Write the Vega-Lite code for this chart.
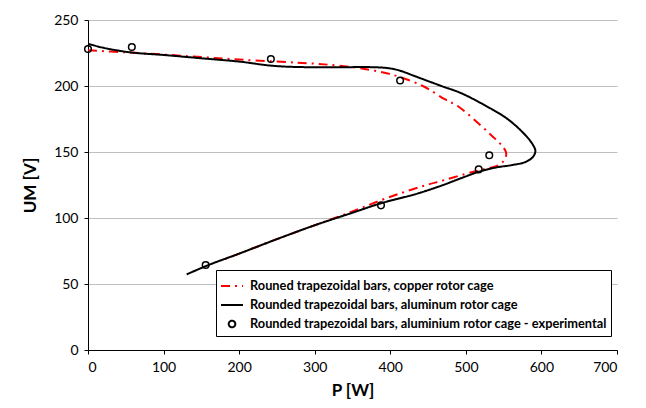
{
  "$schema": "https://vega.github.io/schema/vega-lite/v6.json",
  "width": 529,
  "height": 330,
  "autosize": {"type": "none"},
  "padding": {"left": 88, "top": 20, "right": 29, "bottom": 58},
  "background": "white",
  "config": {
    "view": {"stroke": null},
    "font": "Lato",
    "axis": {
      "labelFont": "Lato",
      "labelFontSize": 14,
      "labelColor": "#000000",
      "titleFont": "Lato",
      "titleFontSize": 17,
      "titleFontWeight": "bold",
      "titleColor": "#000000",
      "domainColor": "#000000",
      "tickColor": "#000000",
      "tickSize": 4,
      "domainWidth": 1
    }
  },
  "datasets": {
    "curves": [
      {"series": "Rouned trapezoidal bars, copper rotor cage", "i": 1, "P": 0, "U": 227},
      {"series": "Rouned trapezoidal bars, copper rotor cage", "i": 2, "P": 50, "U": 225.5},
      {"series": "Rouned trapezoidal bars, copper rotor cage", "i": 3, "P": 122, "U": 223},
      {"series": "Rouned trapezoidal bars, copper rotor cage", "i": 4, "P": 200, "U": 220},
      {"series": "Rouned trapezoidal bars, copper rotor cage", "i": 5, "P": 298, "U": 217},
      {"series": "Rouned trapezoidal bars, copper rotor cage", "i": 6, "P": 330, "U": 215.5},
      {"series": "Rouned trapezoidal bars, copper rotor cage", "i": 7, "P": 360, "U": 213.4},
      {"series": "Rouned trapezoidal bars, copper rotor cage", "i": 8, "P": 400, "U": 209},
      {"series": "Rouned trapezoidal bars, copper rotor cage", "i": 9, "P": 443, "U": 200},
      {"series": "Rouned trapezoidal bars, copper rotor cage", "i": 10, "P": 472, "U": 190},
      {"series": "Rouned trapezoidal bars, copper rotor cage", "i": 11, "P": 490, "U": 184.5},
      {"series": "Rouned trapezoidal bars, copper rotor cage", "i": 12, "P": 516.5, "U": 171.7},
      {"series": "Rouned trapezoidal bars, copper rotor cage", "i": 13, "P": 535, "U": 162},
      {"series": "Rouned trapezoidal bars, copper rotor cage", "i": 14, "P": 547.4, "U": 155},
      {"series": "Rouned trapezoidal bars, copper rotor cage", "i": 15, "P": 553, "U": 150},
      {"series": "Rouned trapezoidal bars, copper rotor cage", "i": 16, "P": 553, "U": 146.5},
      {"series": "Rouned trapezoidal bars, copper rotor cage", "i": 17, "P": 549, "U": 142.5},
      {"series": "Rouned trapezoidal bars, copper rotor cage", "i": 18, "P": 541, "U": 139.4},
      {"series": "Rouned trapezoidal bars, copper rotor cage", "i": 19, "P": 520, "U": 136.5},
      {"series": "Rouned trapezoidal bars, copper rotor cage", "i": 20, "P": 500, "U": 133.5},
      {"series": "Rouned trapezoidal bars, copper rotor cage", "i": 21, "P": 470, "U": 128.5},
      {"series": "Rouned trapezoidal bars, copper rotor cage", "i": 22, "P": 448, "U": 125},
      {"series": "Rouned trapezoidal bars, copper rotor cage", "i": 23, "P": 420, "U": 120},
      {"series": "Rouned trapezoidal bars, copper rotor cage", "i": 24, "P": 388, "U": 113.5},
      {"series": "Rouned trapezoidal bars, copper rotor cage", "i": 25, "P": 350, "U": 105},
      {"series": "Rouned trapezoidal bars, copper rotor cage", "i": 26, "P": 300, "U": 94.5},
      {"series": "Rouned trapezoidal bars, copper rotor cage", "i": 27, "P": 250, "U": 84},
      {"series": "Rouned trapezoidal bars, copper rotor cage", "i": 28, "P": 200, "U": 73},
      {"series": "Rouned trapezoidal bars, copper rotor cage", "i": 29, "P": 175, "U": 67.5},
      {"series": "Rounded trapezoidal bars, aluminum rotor cage", "i": 1, "P": 0, "U": 232},
      {"series": "Rounded trapezoidal bars, aluminum rotor cage", "i": 2, "P": 20, "U": 229},
      {"series": "Rounded trapezoidal bars, aluminum rotor cage", "i": 3, "P": 56, "U": 225.5},
      {"series": "Rounded trapezoidal bars, aluminum rotor cage", "i": 4, "P": 100, "U": 223.5},
      {"series": "Rounded trapezoidal bars, aluminum rotor cage", "i": 5, "P": 150, "U": 221},
      {"series": "Rounded trapezoidal bars, aluminum rotor cage", "i": 6, "P": 200, "U": 218.5},
      {"series": "Rounded trapezoidal bars, aluminum rotor cage", "i": 7, "P": 241, "U": 215.5},
      {"series": "Rounded trapezoidal bars, aluminum rotor cage", "i": 8, "P": 270, "U": 214.5},
      {"series": "Rounded trapezoidal bars, aluminum rotor cage", "i": 9, "P": 320, "U": 214.2},
      {"series": "Rounded trapezoidal bars, aluminum rotor cage", "i": 10, "P": 380, "U": 214.2},
      {"series": "Rounded trapezoidal bars, aluminum rotor cage", "i": 11, "P": 400, "U": 213.3},
      {"series": "Rounded trapezoidal bars, aluminum rotor cage", "i": 12, "P": 413, "U": 211.6},
      {"series": "Rounded trapezoidal bars, aluminum rotor cage", "i": 13, "P": 430, "U": 208},
      {"series": "Rounded trapezoidal bars, aluminum rotor cage", "i": 14, "P": 452, "U": 203.3},
      {"series": "Rounded trapezoidal bars, aluminum rotor cage", "i": 15, "P": 470, "U": 199.5},
      {"series": "Rounded trapezoidal bars, aluminum rotor cage", "i": 16, "P": 492, "U": 195},
      {"series": "Rounded trapezoidal bars, aluminum rotor cage", "i": 17, "P": 520, "U": 187},
      {"series": "Rounded trapezoidal bars, aluminum rotor cage", "i": 18, "P": 554, "U": 175.5},
      {"series": "Rounded trapezoidal bars, aluminum rotor cage", "i": 19, "P": 575, "U": 165},
      {"series": "Rounded trapezoidal bars, aluminum rotor cage", "i": 20, "P": 587, "U": 157},
      {"series": "Rounded trapezoidal bars, aluminum rotor cage", "i": 21, "P": 592, "U": 150.8},
      {"series": "Rounded trapezoidal bars, aluminum rotor cage", "i": 22, "P": 589, "U": 146.5},
      {"series": "Rounded trapezoidal bars, aluminum rotor cage", "i": 23, "P": 580, "U": 142.7},
      {"series": "Rounded trapezoidal bars, aluminum rotor cage", "i": 24, "P": 560, "U": 140},
      {"series": "Rounded trapezoidal bars, aluminum rotor cage", "i": 25, "P": 541, "U": 138.4},
      {"series": "Rounded trapezoidal bars, aluminum rotor cage", "i": 26, "P": 517, "U": 135},
      {"series": "Rounded trapezoidal bars, aluminum rotor cage", "i": 27, "P": 500, "U": 131.5},
      {"series": "Rounded trapezoidal bars, aluminum rotor cage", "i": 28, "P": 470, "U": 125},
      {"series": "Rounded trapezoidal bars, aluminum rotor cage", "i": 29, "P": 448, "U": 120.7},
      {"series": "Rounded trapezoidal bars, aluminum rotor cage", "i": 30, "P": 430, "U": 117.5},
      {"series": "Rounded trapezoidal bars, aluminum rotor cage", "i": 31, "P": 388, "U": 111.2},
      {"series": "Rounded trapezoidal bars, aluminum rotor cage", "i": 32, "P": 350, "U": 104},
      {"series": "Rounded trapezoidal bars, aluminum rotor cage", "i": 33, "P": 300, "U": 94.5},
      {"series": "Rounded trapezoidal bars, aluminum rotor cage", "i": 34, "P": 250, "U": 84},
      {"series": "Rounded trapezoidal bars, aluminum rotor cage", "i": 35, "P": 200, "U": 73},
      {"series": "Rounded trapezoidal bars, aluminum rotor cage", "i": 36, "P": 160, "U": 64.5},
      {"series": "Rounded trapezoidal bars, aluminum rotor cage", "i": 37, "P": 130.6, "U": 57.3}
    ],
    "points": [
      {"series": "Rounded trapezoidal bars, aluminium rotor cage - experimental", "P": 0, "U": 228},
      {"series": "Rounded trapezoidal bars, aluminium rotor cage - experimental", "P": 58, "U": 229.5},
      {"series": "Rounded trapezoidal bars, aluminium rotor cage - experimental", "P": 242, "U": 220.5},
      {"series": "Rounded trapezoidal bars, aluminium rotor cage - experimental", "P": 413, "U": 204.2},
      {"series": "Rounded trapezoidal bars, aluminium rotor cage - experimental", "P": 531, "U": 147.5},
      {"series": "Rounded trapezoidal bars, aluminium rotor cage - experimental", "P": 517, "U": 136.8},
      {"series": "Rounded trapezoidal bars, aluminium rotor cage - experimental", "P": 387.7, "U": 109.6},
      {"series": "Rounded trapezoidal bars, aluminium rotor cage - experimental", "P": 155.7, "U": 64.4}
    ]
  },
  "encoding": {
    "x": {
      "field": "P", "type": "quantitative",
      "scale": {"domain": [0, 700], "nice": false, "zero": false},
      "axis": {"title": "P [W]", "values": [0, 100, 200, 300, 400, 500, 600, 700], "grid": false, "labelPadding": 6, "titlePadding": 8}
    },
    "y": {
      "field": "U", "type": "quantitative",
      "scale": {"domain": [0, 250], "nice": false, "zero": false},
      "axis": {"title": "UM [V]", "values": [0, 50, 100, 150, 200, 250], "grid": true, "gridColor": "#bfbfbf", "gridWidth": 1, "labelPadding": 6, "titlePadding": 14}
    },
    "color": {
      "field": "series", "type": "nominal",
      "scale": {
        "domain": ["Rouned trapezoidal bars, copper rotor cage", "Rounded trapezoidal bars, aluminum rotor cage", "Rounded trapezoidal bars, aluminium rotor cage - experimental"],
        "range": ["#ff0000", "#000000", "#000000"]
      },
      "legend": {
        "title": null,
        "orient": "none",
        "legendX": 128,
        "legendY": 250,
        "direction": "vertical",
        "strokeColor": "#000000",
        "fillColor": "#ffffff",
        "padding": 4,
        "rowPadding": 0,
        "labelFont": "Lato",
        "labelFontSize": 12.8,
        "labelFontWeight": "bold",
        "labelColor": "#000000",
        "labelOffset": 6,
        "labelLimit": 500,
        "symbolSize": 484,
        "symbolStrokeWidth": 2
      }
    }
  },
  "layer": [
    {
      "data": {"name": "curves"},
      "mark": {"type": "line", "strokeWidth": 2, "interpolate": "catmull-rom"},
      "encoding": {
        "order": {"field": "i", "type": "quantitative"},
        "strokeDash": {
          "field": "series", "type": "nominal",
          "scale": {
            "domain": ["Rouned trapezoidal bars, copper rotor cage", "Rounded trapezoidal bars, aluminum rotor cage", "Rounded trapezoidal bars, aluminium rotor cage - experimental"],
            "range": [[9, 5, 2, 5], [1, 0], [1, 0]]
          },
          "legend": {"title": null}
        }
      }
    },
    {
      "data": {"name": "points"},
      "mark": {"type": "point", "filled": false, "strokeWidth": 1.5, "size": 484, "opacity": 1},
      "encoding": {
        "shape": {
          "field": "series", "type": "nominal",
          "scale": {
            "domain": ["Rouned trapezoidal bars, copper rotor cage", "Rounded trapezoidal bars, aluminum rotor cage", "Rounded trapezoidal bars, aluminium rotor cage - experimental"],
            "range": ["stroke", "stroke", "M-0.3,0A0.3,0.3 0 1,0 0.3,0A0.3,0.3 0 1,0 -0.3,0Z"]
          },
          "legend": {"title": null}
        }
      }
    }
  ]
}
